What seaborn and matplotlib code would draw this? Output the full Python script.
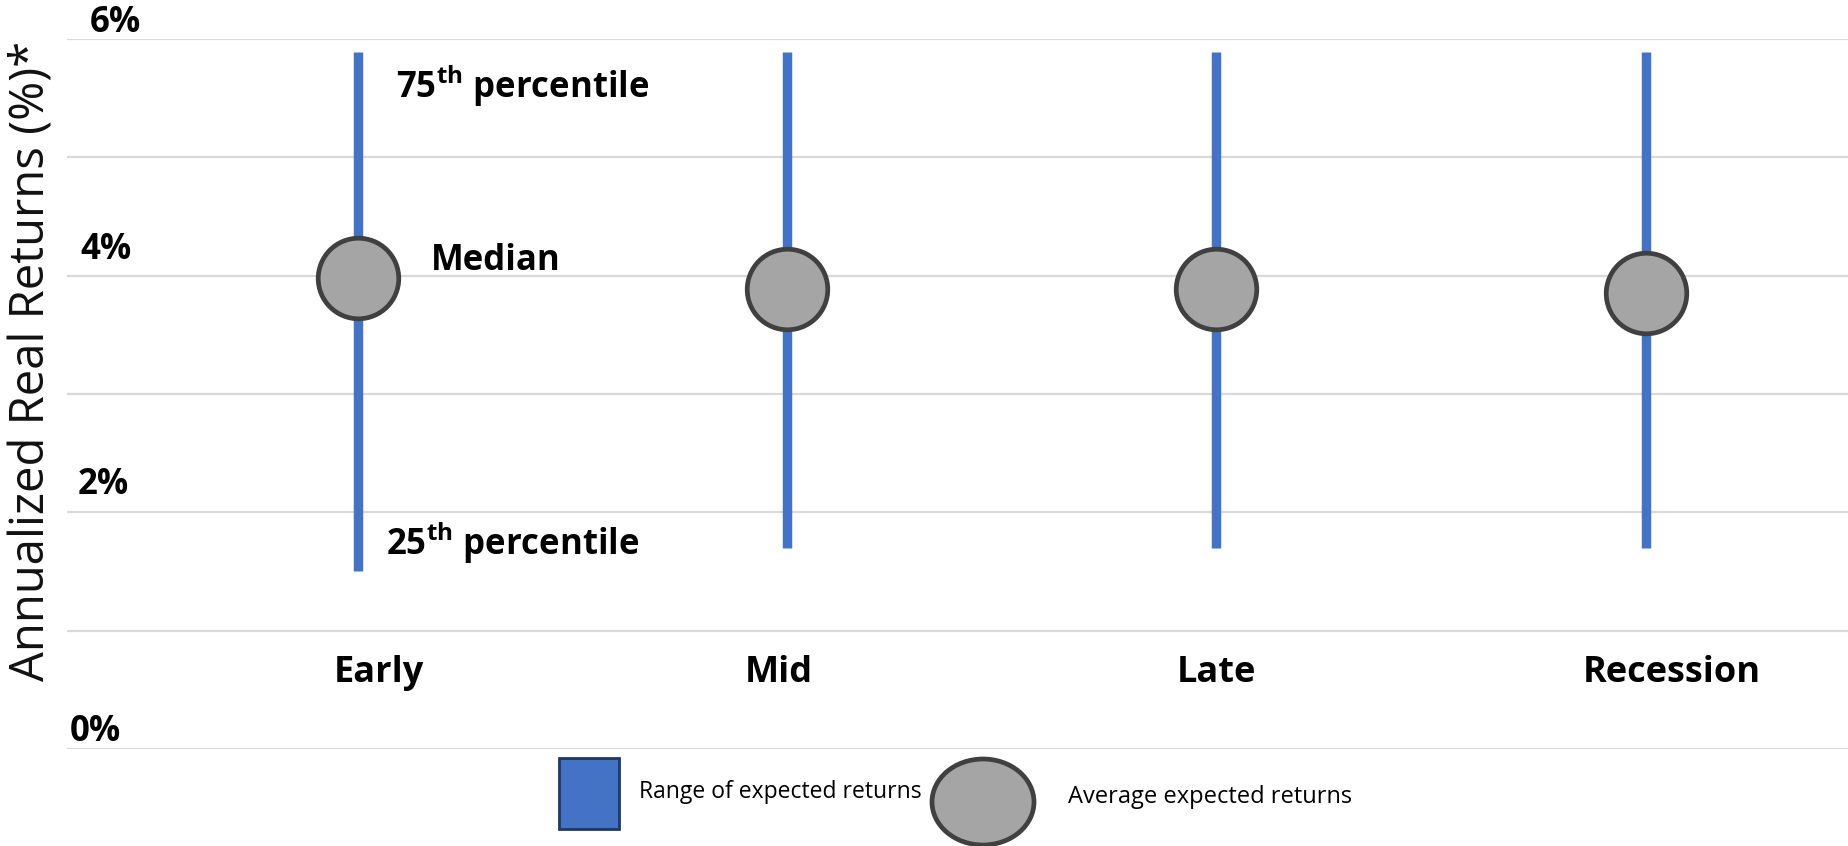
import matplotlib
matplotlib.use('Agg')
import matplotlib.pyplot as plt
from matplotlib.patches import Rectangle, Ellipse
import seaborn as sns
import pandas as pd

sns.set_style("white")
plt.rcParams['font.family'] = ['Open Sans', 'DejaVu Sans']
plt.rcParams['text.color'] = 'black'
plt.rcParams['mathtext.fontset'] = 'custom'
plt.rcParams['mathtext.rm'] = 'Open Sans'
plt.rcParams['mathtext.bf'] = 'Open Sans:bold'

# data (% annualized real returns)
phases = ['Early', 'Mid', 'Late', 'Recession']
pct25 = [1.50, 1.70, 1.70, 1.70]
medians = [3.98, 3.89, 3.89, 3.85]
pct75 = [5.89, 5.89, 5.89, 5.89]
ytick_vals = [0, 2, 4, 6]
ytick_labels = ['0%', '2%', '4%', '6%']

df = pd.DataFrame({'phase': phases, 'x': range(len(phases)),
                   'low': pct25, 'median': medians, 'high': pct75})

BLUE = '#4472C4'
GREY = '#A5A5A5'
EDGE = '#404040'

fig = plt.figure(figsize=(18.49, 8.46), dpi=100)
ax = fig.add_axes([0.036, 0.1147, 0.964, 0.8393])

ax.vlines(df['x'], df['low'], df['high'], color=BLUE, lw=6.8, zorder=2)
sns.scatterplot(data=df, x='x', y='median', s=58**2, color=GREY,
                edgecolor=EDGE, linewidth=3.4, zorder=3, ax=ax, legend=False)

ax.set_xlim(-0.678, 3.473)
ax.set_ylim(0, 6)
ax.set_yticks(range(0, 7))
ax.yaxis.grid(True, color='#D9D9D9', lw=1.6)
ax.set_axisbelow(True)
ax.set_xticks([])
ax.tick_params(axis='y', length=0, labelleft=False)
for s in ax.spines.values():
    s.set_visible(False)
ax.set_xlabel('')
ax.set_ylabel('')

# tick labels sit just above their gridlines, a bit staggered like the original
lab_lift = [0.07, 0.153, 0.138, 0.062]
lab_x = [0.0163, 0.0205, 0.0224, 0.0275]
for v, lab, dy, lx in zip(ytick_vals, ytick_labels, lab_lift, lab_x):
    ax.text(lx, v + dy, lab, transform=ax.get_yaxis_transform(),
            ha='center', va='baseline', fontsize=25, fontweight='bold')

# category labels inside the plot
lab_shift = [0.05, -0.02, 0.0, 0.06]
for i, p in enumerate(phases):
    ax.text(i + lab_shift[i], 0.64, p, ha='center', va='center',
            fontsize=26, fontweight='bold')

# annotations on the first range
ax.text(0.089, 5.6, r'75$^{\mathbf{th}}$ percentile', ha='left', va='center',
        fontsize=25, fontweight='bold')
ax.text(0.17, 4.12, 'Median', ha='left', va='center',
        fontsize=25, fontweight='bold')
ax.text(0.065, 1.74, r'25$^{\mathbf{th}}$ percentile', ha='left', va='center',
        fontsize=25, fontweight='bold')

fig.text(0.017, 0.573, 'Annualized Real Returns (%)*', rotation=90,
         ha='center', va='center', fontsize=34, color='#111111')

# legend drawn below the axes
fig.add_artist(Rectangle((559 / 1849, 1 - 829 / 846), 60 / 1849, 71 / 846,
                         transform=fig.transFigure, facecolor=BLUE,
                         edgecolor='#1F3864', lw=2))
fig.text(639 / 1849, 1 - 792 / 846, 'Range of expected returns',
         ha='left', va='center', fontsize=16.5)
fig.add_artist(Ellipse((983 / 1849, 1 - 802 / 846), 102 / 1849, 86 / 846,
                       transform=fig.transFigure, facecolor=GREY,
                       edgecolor=EDGE, lw=3.4))
fig.text(1068 / 1849, 1 - 797 / 846, 'Average expected returns',
         ha='left', va='center', fontsize=17)

fig.savefig('out.png', dpi=100)
